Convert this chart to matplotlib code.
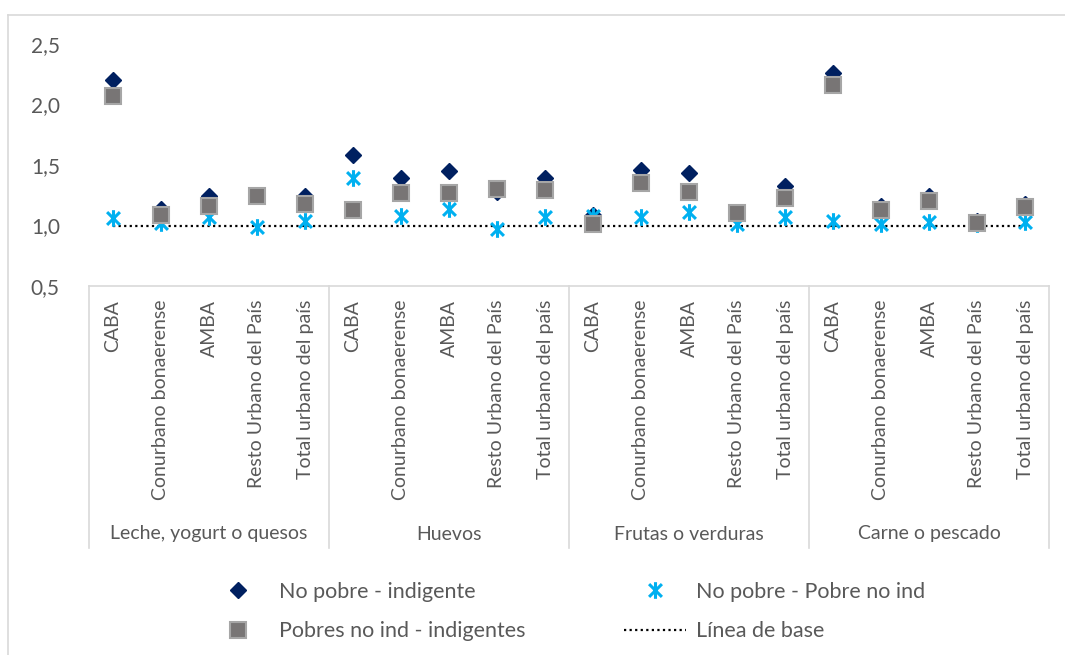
import numpy as np
import matplotlib
matplotlib.use("Agg")
import matplotlib.pyplot as plt
from matplotlib.path import Path
from matplotlib.lines import Line2D
from matplotlib.ticker import FuncFormatter

plt.rcParams['font.family'] = ['Lato', 'DejaVu Sans']

# data
groups = ["Leche, yogurt o quesos", "Huevos", "Frutas o verduras", "Carne o pescado"]
regions = ["CABA", "Conurbano bonaerense", "AMBA", "Resto Urbano del País", "Total urbano del país"]

no_pobre_indigente = [2.20, 1.14, 1.24, 1.25, 1.24,
                      1.58, 1.39, 1.45, 1.28, 1.39,
                      1.09, 1.46, 1.43, 1.11, 1.33,
                      2.26, 1.16, 1.24, 1.04, 1.18]
no_pobre_pobre = [1.06, 1.02, 1.07, 0.99, 1.04,
                  1.39, 1.08, 1.14, 0.97, 1.07,
                  1.08, 1.07, 1.11, 1.01, 1.07,
                  1.04, 1.01, 1.03, 1.01, 1.03]
pobres_indigentes = [2.07, 1.09, 1.16, 1.24, 1.18,
                     1.13, 1.27, 1.27, 1.30, 1.29,
                     1.01, 1.35, 1.28, 1.10, 1.23,
                     2.16, 1.13, 1.20, 1.02, 1.15]
linea_base = [1.0] * 20

labels = regions * len(groups)
x = np.arange(len(labels))

# excel-like star marker: an x with a vertical bar
star = Path([(-1, -1), (1, 1), (-1, 1), (1, -1), (0, -1.3), (0, 1.3)],
            [Path.MOVETO, Path.LINETO, Path.MOVETO, Path.LINETO, Path.MOVETO, Path.LINETO])

txt = '#595959'
fig = plt.figure(figsize=(10.65, 6.55), dpi=100)
W, H = 1065, 655
ax = fig.add_axes([89 / W, 1 - 286 / H, 960 / W, 242 / H])

ax.plot(x, no_pobre_indigente, ls='none', marker='D', ms=8, color='#002060',
        mec='#002060', label='No pobre - indigente', zorder=3)
ax.plot(x, no_pobre_pobre, ls='none', marker=star, ms=12, color='#00B0F0',
        mew=2.2, label='No pobre - Pobre no ind', zorder=4)
ax.plot(x, pobres_indigentes, ls='none', marker='s', ms=11, color='#787575',
        mfc='#787575', mec='#A6A6A6', mew=1.5, label='Pobres no ind - indigentes', zorder=5)
ax.plot(x, linea_base, ls=(0, (1, 1.5)), lw=1.6, color='black', label='Línea de base', zorder=2)

ax.set_xlim(-0.5, len(labels) - 0.5)
ax.set_ylim(0.5, 2.5)
ax.set_yticks([0.5, 1.0, 1.5, 2.0, 2.5])
ax.yaxis.set_major_formatter(FuncFormatter(lambda v, p: f"{v:.1f}".replace('.', ',')))
ax.tick_params(axis='y', length=0, pad=21, labelsize=15, labelcolor=txt)
ax.set_xticks(x)
ax.set_xticklabels(labels, rotation=90, va='top', ha='center')
ax.tick_params(axis='x', length=0, pad=10, labelsize=14, labelcolor=txt)

for s in ['top', 'right', 'left']:
    ax.spines[s].set_visible(False)
ax.spines['bottom'].set_color('#D9D9D9')
ax.spines['bottom'].set_linewidth(1.2)

# multi-level category axis
bottom = -262 / 242
for b in np.arange(-0.5, len(labels), len(regions)):
    ax.plot([b, b], [0, bottom], color='#D9D9D9', lw=1.2, clip_on=False,
            transform=ax.get_xaxis_transform())
for i, g in enumerate(groups):
    cx = i * len(regions) + (len(regions) - 1) / 2
    ax.text(cx, -248 / 242, g, ha='center', va='center', fontsize=14, color=txt,
            transform=ax.get_xaxis_transform())

# outer border (only top/left visible in the crop)
fig.add_artist(Line2D([7.5 / W, 7.5 / W], [0, 1 - 14.5 / H], color='#D9D9D9', lw=1.2))
fig.add_artist(Line2D([7.5 / W, 1], [1 - 14.5 / H, 1 - 14.5 / H], color='#D9D9D9', lw=1.2))

h, l = ax.get_legend_handles_labels()
order = [0, 2, 1, 3]
leg = fig.legend([h[i] for i in order], [l[i] for i in order], ncol=2, frameon=False,
                 loc='upper left', bbox_to_anchor=(207 / W, 1 - 582 / H),
                 fontsize=15.5, handlelength=2.9, handletextpad=0.45,
                 columnspacing=4.55, labelspacing=0.9, borderpad=0, borderaxespad=0,
                 labelcolor=txt)

fig.savefig('out.png', dpi=100)
